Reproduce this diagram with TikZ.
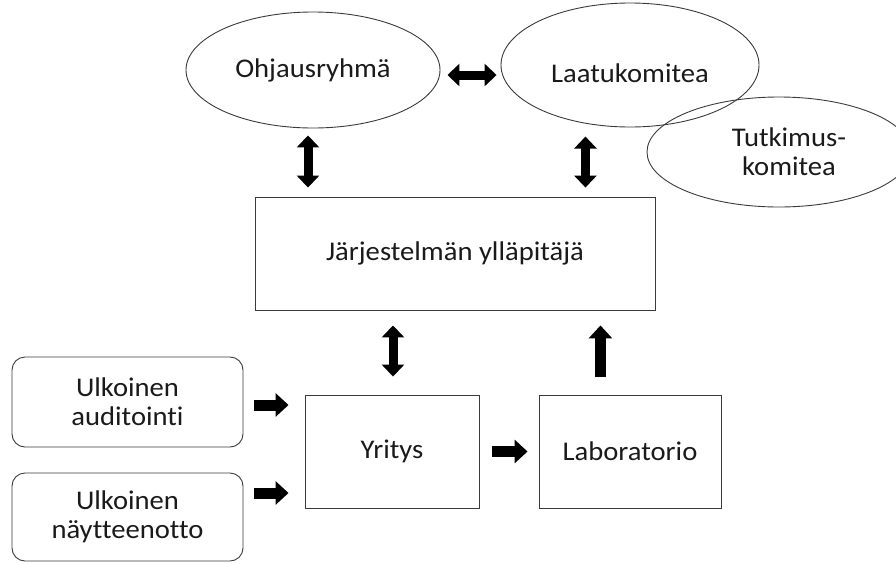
\documentclass[tikz,border=0pt]{standalone}
\usepackage{fontspec}
\setmainfont{Carlito}[FakeStretch=1.06,Ligatures=NoCommon]
\usetikzlibrary{shapes.geometric,arrows.meta}
\definecolor{edge}{HTML}{3A3A3A}
\definecolor{ink}{HTML}{1A1A1A}
\tikzset{
  oval/.style={ellipse,draw=edge,line width=0.9pt,inner sep=0pt,text=ink,font=\fontsize{27}{29}\selectfont,align=center},
  plainbox/.style={rectangle,draw=edge,line width=0.9pt,inner sep=0pt,text=ink,font=\fontsize{27}{29}\selectfont,align=center},
  softbox/.style={plainbox,rounded corners=13pt},
  blockarrow/.style={draw=black,line width=11pt,-{Triangle[width=23pt,length=13pt]}},
  dblarrow/.style={draw=black,line width=9pt,{Triangle[width=22pt,length=12pt]}-{Triangle[width=22pt,length=12pt]}}
}
\begin{document}
\begin{tikzpicture}[x=1pt,y=-1pt]
\useasboundingbox (0,0) rectangle (896,563);
\node[oval,minimum width=254pt,minimum height=116pt] (ohj) at (313,70) {Ohjausryhmä};
\node[oval,minimum width=258pt,minimum height=124pt] (laa) at (630,65) {\raisebox{-17pt}[0pt][0pt]{Laatukomitea}};
\node[oval,minimum width=264pt,minimum height=110pt] (tut) at (779,152) {\hspace*{20pt}Tutkimus-\\\hspace*{20pt}komitea};
\node[plainbox,minimum width=400pt,minimum height=113pt] (jar) at (455,253.5) {Järjestelmän ylläpitäjä};
\node[plainbox,minimum width=174pt,minimum height=113pt] (yri) at (392,451.5) {Yritys};
\node[plainbox,minimum width=182pt,minimum height=113pt] (lab) at (630,451.5) {Laboratorio};
\node[softbox,minimum width=231pt,minimum height=90pt] (aud) at (127.5,402) {Ulkoinen\\auditointi};
\node[softbox,minimum width=231pt,minimum height=88pt] (nay) at (127.5,517) {Ulkoinen\\näytteenotto};
% arrows
\draw[dblarrow] ([xshift=7pt,yshift=-5pt]ohj.east) -- ([xshift=-4pt,yshift=-5pt]laa.west |- ohj.east);
\draw[dblarrow] ([xshift=-5pt,yshift=-7pt]ohj.south) -- ([xshift=-5pt,yshift=9pt]ohj.south |- jar.north);
\draw[dblarrow] ([xshift=-70pt,yshift=60pt]jar.north east) -- ([xshift=-70pt,yshift=9pt]jar.north east);
\draw[dblarrow] ([xshift=1pt,yshift=-15pt]yri.north |- jar.south) -- ([xshift=1pt,yshift=18pt]yri.north);
\draw[blockarrow] ([xshift=-55pt,yshift=18pt]jar.south east |- lab.north) -- ([xshift=-55pt,yshift=-15pt]jar.south east);
\draw[blockarrow] ([xshift=13pt]yri.east) -- ([xshift=-11pt]lab.west);
\draw[blockarrow] ([xshift=11pt]aud.east |- 0,405) coordinate (a1) -- ([xshift=-16pt]yri.west |- a1);
\draw[blockarrow] ([xshift=11pt]nay.east |- 0,493) coordinate (a2) -- ([xshift=-16pt]yri.west |- a2);
\end{tikzpicture}
\end{document}
